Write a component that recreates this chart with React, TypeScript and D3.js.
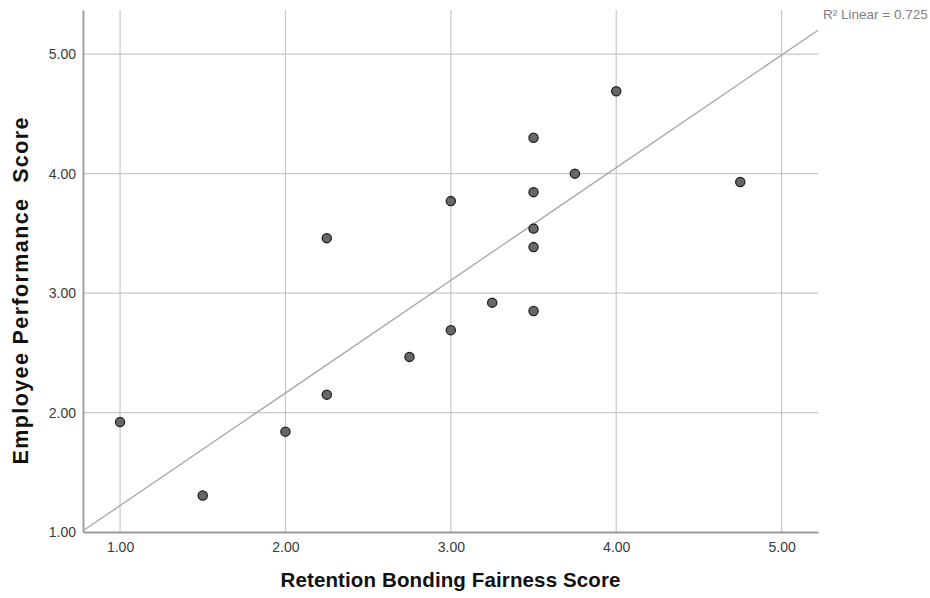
import React, { useEffect, useRef } from "react";
import * as d3 from "d3";

// retention bonding fairness score (x) / employee performance score (y)
const fairness = [1.0, 1.5, 2.0, 2.25, 2.25, 2.75, 3.0, 3.0, 3.25, 3.5, 3.5, 3.5, 3.5, 3.5, 3.75, 4.0, 4.75];
const performance = [1.92, 1.305, 1.84, 2.15, 3.46, 2.466, 2.69, 3.77, 2.92, 2.85, 3.385, 3.54, 3.845, 4.3, 4.0, 4.69, 3.93];

const xTicks = [1, 2, 3, 4, 5];
const yTicks = [1, 2, 3, 4, 5];

// fit line as drawn by SPSS
const fitIntercept = 0.278;
const fitSlope = 0.943;
const rSquared = "0.725";

const xTitle = "Retention Bonding Fairness Score";
const yTitle = "Employee Performance  Score";

const width = 930;
const height = 598;
const margin = { top: 10, right: 112, bottom: 66, left: 83 };
const font = "'Liberation Sans', Arial, sans-serif";

const App = () => {
  const svgRef = useRef<SVGSVGElement>(null);

  useEffect(() => {
    document.body.style.margin = "0";
    const svg = d3.select(svgRef.current);
    svg.selectAll("*").remove();

    const x = d3.scaleLinear()
      .domain([0.776, 5.22])
      .range([margin.left, width - margin.right]);
    const y = d3.scaleLinear()
      .domain([1, 5.37])
      .range([height - margin.bottom, margin.top]);

    const [x0, x1] = x.range();
    const [y0, y1] = y.range();

    // grid
    const grid = svg.append("g");
    grid.selectAll(".vgrid")
      .data(xTicks)
      .join("line")
      .attr("x1", d => x(d)).attr("x2", d => x(d))
      .attr("y1", y0).attr("y2", y1)
      .attr("stroke", "#c8c8c8").attr("stroke-width", 1.2);
    grid.selectAll(".hgrid")
      .data(yTicks.filter(d => d > 1))
      .join("line")
      .attr("x1", x0).attr("x2", x1)
      .attr("y1", d => y(d)).attr("y2", d => y(d))
      .attr("stroke", "#c8c8c8").attr("stroke-width", 1.2);

    // fit line
    const xd = x.domain();
    svg.append("line")
      .attr("x1", x(xd[0])).attr("y1", y(fitIntercept + fitSlope * xd[0]))
      .attr("x2", x(xd[1])).attr("y2", y(fitIntercept + fitSlope * xd[1]))
      .attr("stroke", "#a6a6a6").attr("stroke-width", 1.3);

    // axes
    const xAxis = d3.axisBottom(x).tickValues(xTicks).tickSize(0).tickPadding(10)
      .tickFormat(d3.format(".2f"));
    const yAxis = d3.axisLeft(y).tickValues(yTicks).tickSize(0).tickPadding(7)
      .tickFormat(d3.format(".2f"));

    const gx = svg.append("g").attr("transform", `translate(0,${y0})`).call(xAxis);
    const gy = svg.append("g").attr("transform", `translate(${x0},0)`).call(yAxis);
    [gx, gy].forEach(g => {
      g.select(".domain").attr("stroke", "#9a9a9a").attr("stroke-width", 1.8);
      g.selectAll("text")
        .attr("font-family", font)
        .attr("font-size", 14)
        .attr("fill", "#3a3a3a");
    });

    // points
    svg.selectAll(".pt")
      .data(fairness.map((f, i) => [f, performance[i]]))
      .join("circle")
      .attr("cx", d => x(d[0]))
      .attr("cy", d => y(d[1]))
      .attr("r", 4.6)
      .attr("fill", "#676767")
      .attr("stroke", "#222")
      .attr("stroke-width", 1.3);

    // titles
    svg.append("text")
      .attr("x", (x0 + x1) / 2).attr("y", 587)
      .attr("text-anchor", "middle")
      .attr("font-family", font)
      .attr("font-weight", "bold").attr("font-size", 20.5)
      .attr("fill", "#111")
      .attr("textLength", 340)
      .attr("lengthAdjust", "spacing")
      .text(xTitle);
    svg.append("text")
      .attr("transform", `translate(28,291) rotate(-90)`)
      .attr("text-anchor", "middle")
      .attr("font-family", font)
      .attr("font-weight", "bold").attr("font-size", 21.5)
      .attr("fill", "#111")
      .attr("textLength", 347)
      .attr("lengthAdjust", "spacing")
      .style("white-space", "pre")
      .text(yTitle);

    svg.append("text")
      .attr("x", x1 + 5).attr("y", 19)
      .attr("font-family", font)
      .attr("font-size", 13.5)
      .attr("fill", "#808080")
      .text(`R\u00b2 Linear = ${rSquared}`);
  }, []);

  return <svg ref={svgRef} width={width} height={height} style={{ display: "block", background: "#fff" }} />;
};

export default App;
